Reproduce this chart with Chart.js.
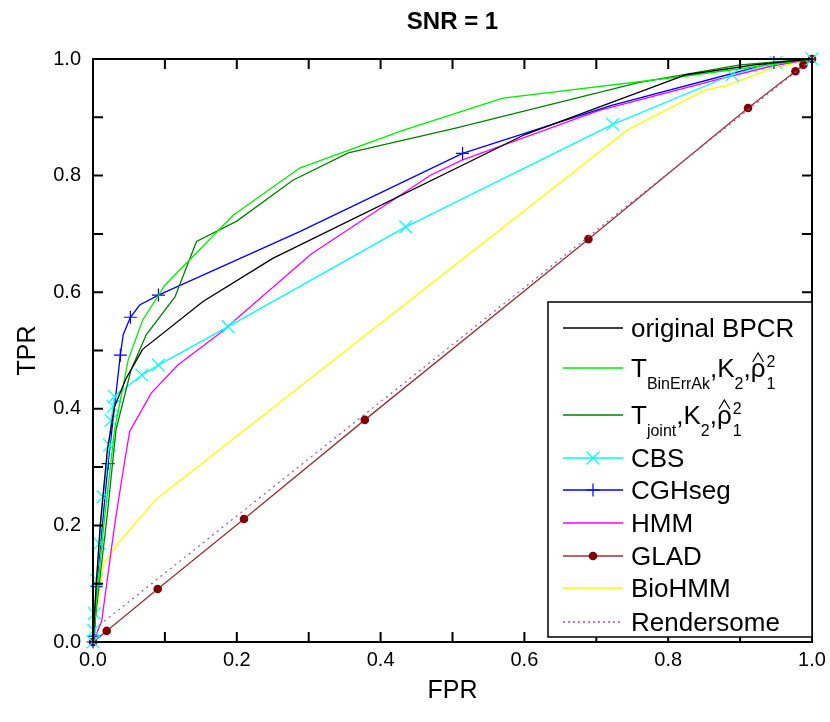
<!DOCTYPE html>
<html>
<head>
<meta charset="utf-8">
<script src="https://cdn.jsdelivr.net/npm/chart.js@4.4.1/dist/chart.umd.min.js"></script>
<style>
  html, body { margin: 0; padding: 0; background: #fff; }
  canvas { display: block; }
</style>
</head>
<body>
<canvas id="roc" width="830" height="722"></canvas>
<script>
// ROC curves, SNR = 1
const bpcrFpr = [0, 0.004, 0.010, 0.020, 0.030, 0.046, 0.069, 0.153, 0.25, 0.60, 0.825, 0.92, 1];
const bpcrTpr = [0, 0.09, 0.20, 0.33, 0.404, 0.452, 0.502, 0.584, 0.658, 0.87, 0.973, 0.99, 1];

const binErrFpr = [0, 0.005, 0.015, 0.030, 0.049, 0.069, 0.10, 0.195, 0.2875, 0.43, 0.57, 0.82, 1];
const binErrTpr = [0, 0.07, 0.20, 0.364, 0.484, 0.552, 0.612, 0.732, 0.813, 0.877, 0.933, 0.97, 1];

const jointFpr = [0, 0.005, 0.020, 0.032, 0.053, 0.074, 0.114, 0.144, 0.20, 0.278, 0.355, 0.503, 0.76, 0.90, 1];
const jointTpr = [0, 0.06, 0.22, 0.364, 0.467, 0.527, 0.592, 0.687, 0.722, 0.792, 0.839, 0.881, 0.96, 0.99, 1];

const cbsFpr = [0, 0.001, 0.002, 0.005, 0.009, 0.014, 0.023, 0.025, 0.028, 0.030, 0.068, 0.091, 0.188, 0.435, 0.723, 0.889, 0.95, 1];
const cbsTpr = [0, 0.02, 0.049, 0.106, 0.169, 0.249, 0.338, 0.38, 0.404, 0.421, 0.458, 0.475, 0.541, 0.712, 0.888, 0.973, 0.994, 1];

const cghFpr = [0, 0.002, 0.005, 0.021, 0.038, 0.042, 0.052, 0.065, 0.091, 0.2875, 0.514, 0.72, 0.947, 1];
const cghTpr = [0, 0.01, 0.095, 0.306, 0.492, 0.527, 0.557, 0.578, 0.595, 0.704, 0.838, 0.92, 0.994, 1];
const cghMarkFpr = [0, 0.002, 0.005, 0.021, 0.038, 0.052, 0.091, 0.514, 0.947];
const cghMarkTpr = [0, 0.01, 0.095, 0.306, 0.492, 0.557, 0.595, 0.838, 0.994];

const hmmFpr = [0, 0.012, 0.030, 0.044, 0.051, 0.081, 0.118, 0.176, 0.304, 0.47, 0.514, 0.704, 0.86, 0.944, 1];
const hmmTpr = [0, 0.035, 0.20, 0.31, 0.361, 0.427, 0.475, 0.529, 0.666, 0.801, 0.827, 0.912, 0.962, 0.988, 1];

const gladFpr = [0, 0.019, 0.09, 0.21, 0.378, 0.689, 0.911, 0.977, 0.988, 1];
const gladTpr = [0, 0.019, 0.091, 0.211, 0.381, 0.691, 0.916, 0.979, 0.99, 1];

const bioFpr = [0, 0.004, 0.015, 0.039, 0.088, 0.743, 0.852, 0.88, 0.945, 1];
const bioTpr = [0, 0.05, 0.135, 0.175, 0.245, 0.878, 0.947, 0.954, 0.984, 1];

const renderFpr = [0, 0.01, 1];
const renderTpr = [0, 0.03, 1];

const tickSteps = [0, 0.1, 0.2, 0.3, 0.4, 0.5, 0.6, 0.7, 0.8, 0.9, 1.0];
const labelValues = [0, 0.2, 0.4, 0.6, 0.8, 1.0];
const labelTexts = ['0.0', '0.2', '0.4', '0.6', '0.8', '1.0'];

const FONT = 'Arial, "Liberation Sans", sans-serif';

function pts(xs, ys) {
    return xs.map((x, i) => ({ x: x, y: ys[i] }));
}

function lineSet(label, xs, ys, color, extra) {
    return Object.assign({
        label: label,
        data: pts(xs, ys),
        showLine: true,
        borderColor: color,
        backgroundColor: color,
        borderWidth: 1.3,
        pointRadius: 0,
        pointHoverRadius: 0,
        tension: 0,
        clip: false
    }, extra || {});
}

// small drawing helpers for the legend
function drawMarker(ctx, kind, x, y, color) {
    ctx.save();
    ctx.strokeStyle = color;
    ctx.fillStyle = color;
    ctx.lineWidth = 1.2;
    ctx.beginPath();
    if (kind === 'x') {
        const d = 6.5;
        ctx.moveTo(x - d, y - d); ctx.lineTo(x + d, y + d);
        ctx.moveTo(x - d, y + d); ctx.lineTo(x + d, y - d);
        ctx.stroke();
    } else if (kind === '+') {
        const d = 6.5;
        ctx.moveTo(x - d, y); ctx.lineTo(x + d, y);
        ctx.moveTo(x, y - d); ctx.lineTo(x, y + d);
        ctx.stroke();
    } else if (kind === 'o') {
        ctx.arc(x, y, 4.3, 0, Math.PI * 2);
        ctx.fill();
    }
    ctx.restore();
}

function drawTLabel(ctx, x, base, subText) {
    const big = '26px ' + FONT;
    const small = '16px ' + FONT;
    let cx = x;
    ctx.font = big;
    ctx.fillText('T', cx, base);
    cx += ctx.measureText('T').width;
    ctx.font = small;
    ctx.fillText(subText, cx, base + 12);
    cx += ctx.measureText(subText).width;
    ctx.font = big;
    ctx.fillText(',K', cx, base);
    cx += ctx.measureText(',K').width;
    ctx.font = small;
    ctx.fillText('2', cx, base + 12);
    cx += ctx.measureText('2').width;
    ctx.font = big;
    ctx.fillText(',', cx, base);
    cx += ctx.measureText(',').width;
    const rw = ctx.measureText('\u03C1').width;
    ctx.fillText('\u03C1', cx, base);
    ctx.lineWidth = 1.2;
    ctx.beginPath();
    ctx.moveTo(cx + 2, base - 15);
    ctx.lineTo(cx + rw / 2, base - 24);
    ctx.lineTo(cx + rw - 2, base - 15);
    ctx.stroke();
    cx += rw;
    ctx.font = small;
    ctx.fillText('2', cx + 1, base - 10);
    ctx.fillText('1', cx + 1, base + 12);
}

const legendRows = [
    { y: 328, color: '#000000', text: 'original BPCR' },
    { y: 368, color: '#00ee00', tsub: 'BinErrAk' },
    { y: 415, color: '#008000', tsub: 'joint' },
    { y: 458, color: '#00ffff', text: 'CBS', marker: 'x' },
    { y: 490, color: '#0000ff', text: 'CGHseg', marker: '+' },
    { y: 523, color: '#ff00ff', text: 'HMM' },
    { y: 556, color: '#993333', text: 'GLAD', marker: 'o', markerColor: '#800000' },
    { y: 588, color: '#ffff00', text: 'BioHMM' },
    { y: 622, color: '#a64ca6', text: 'Rendersome', dash: [2, 3] }
];

const decorPlugin = {
    id: 'decor',
    afterDraw(chart) {
        const ctx = chart.ctx;
        const xs = chart.scales.x;
        const ys = chart.scales.y;
        const a = chart.chartArea;
        ctx.save();

        // frame
        ctx.strokeStyle = '#000';
        ctx.lineWidth = 2;
        ctx.strokeRect(a.left, a.top, a.right - a.left, a.bottom - a.top);

        // inward ticks on all sides
        ctx.lineWidth = 2;
        ctx.beginPath();
        tickSteps.forEach(v => {
            const px = xs.getPixelForValue(v);
            ctx.moveTo(px, a.bottom); ctx.lineTo(px, a.bottom - 10);
            ctx.moveTo(px, a.top); ctx.lineTo(px, a.top + 10);
            const py = ys.getPixelForValue(v);
            ctx.moveTo(a.left, py); ctx.lineTo(a.left + 10, py);
            ctx.moveTo(a.right, py); ctx.lineTo(a.right - 10, py);
        });
        ctx.stroke();

        // tick labels
        ctx.fillStyle = '#000';
        ctx.font = '20px ' + FONT;
        ctx.textBaseline = 'middle';
        labelValues.forEach((v, i) => {
            ctx.textAlign = 'center';
            ctx.fillText(labelTexts[i], xs.getPixelForValue(v), a.bottom + 18);
            ctx.textAlign = 'right';
            ctx.fillText(labelTexts[i], a.left - 12, ys.getPixelForValue(v));
        });

        // title and axis titles
        ctx.textAlign = 'center';
        ctx.font = 'bold 24px ' + FONT;
        ctx.fillText('SNR = 1', (a.left + a.right) / 2, 22);
        ctx.font = '25px ' + FONT;
        ctx.fillText('FPR', (a.left + a.right) / 2, 691);
        ctx.save();
        ctx.translate(28, (a.top + a.bottom) / 2);
        ctx.rotate(-Math.PI / 2);
        ctx.fillText('TPR', 0, 0);
        ctx.restore();

        // legend box
        const lx = 548, ly = 302, lw = a.right - 548, lh = 335;
        ctx.fillStyle = '#fff';
        ctx.fillRect(lx, ly, lw, lh);
        ctx.strokeStyle = '#000';
        ctx.lineWidth = 1.5;
        ctx.strokeRect(lx, ly, lw, lh);

        ctx.textAlign = 'left';
        ctx.textBaseline = 'alphabetic';
        legendRows.forEach(r => {
            ctx.save();
            ctx.strokeStyle = r.color;
            ctx.lineWidth = 1.3;
            if (r.dash) ctx.setLineDash(r.dash);
            ctx.beginPath();
            ctx.moveTo(563, r.y);
            ctx.lineTo(623, r.y);
            ctx.stroke();
            ctx.restore();
            if (r.marker) drawMarker(ctx, r.marker, 593, r.y, r.markerColor || r.color);
            ctx.fillStyle = '#000';
            ctx.strokeStyle = '#000';
            if (r.tsub) {
                drawTLabel(ctx, 631, r.y + 9, r.tsub);
            } else {
                ctx.font = '26px ' + FONT;
                ctx.fillText(r.text, 631, r.y + 9);
            }
        });

        ctx.restore();
    }
};

const ctx = document.getElementById('roc').getContext('2d');

new Chart(ctx, {
    type: 'scatter',
    data: {
        datasets: [
            lineSet('Rendersome', renderFpr, renderTpr, '#a64ca6', { borderDash: [2, 4], borderWidth: 1.2 }),
            lineSet('original BPCR', bpcrFpr, bpcrTpr, '#000000'),
            lineSet('TBinErrAk', binErrFpr, binErrTpr, '#00ee00'),
            lineSet('Tjoint', jointFpr, jointTpr, '#008000'),
            lineSet('CBS', cbsFpr, cbsTpr, '#00ffff', {
                pointRadius: 9, pointStyle: 'crossRot', pointBorderColor: '#00ffff', pointBorderWidth: 1.2
            }),
            lineSet('CGHseg', cghFpr, cghTpr, '#0000ff'),
            lineSet('CGHseg markers', cghMarkFpr, cghMarkTpr, '#0000ff', {
                showLine: false, pointRadius: 6.5, pointStyle: 'cross', pointBorderColor: '#0000ff', pointBorderWidth: 1.2
            }),
            lineSet('HMM', hmmFpr, hmmTpr, '#ff00ff'),
            lineSet('GLAD', gladFpr, gladTpr, '#993333', {
                pointRadius: 4.3, pointStyle: 'circle', pointBackgroundColor: '#800000', pointBorderColor: '#800000', pointBorderWidth: 0
            }),
            lineSet('BioHMM', bioFpr, bioTpr, '#ffff00')
        ]
    },
    options: {
        responsive: false,
        animation: false,
        events: [],
        layout: { padding: { left: 93, right: 18, top: 59, bottom: 80 } },
        plugins: {
            legend: { display: false },
            title: { display: false },
            tooltip: { enabled: false }
        },
        scales: {
            x: { type: 'linear', min: 0, max: 1, display: false },
            y: { type: 'linear', min: 0, max: 1, display: false }
        }
    },
    plugins: [decorPlugin]
});
</script>
</body>
</html>
